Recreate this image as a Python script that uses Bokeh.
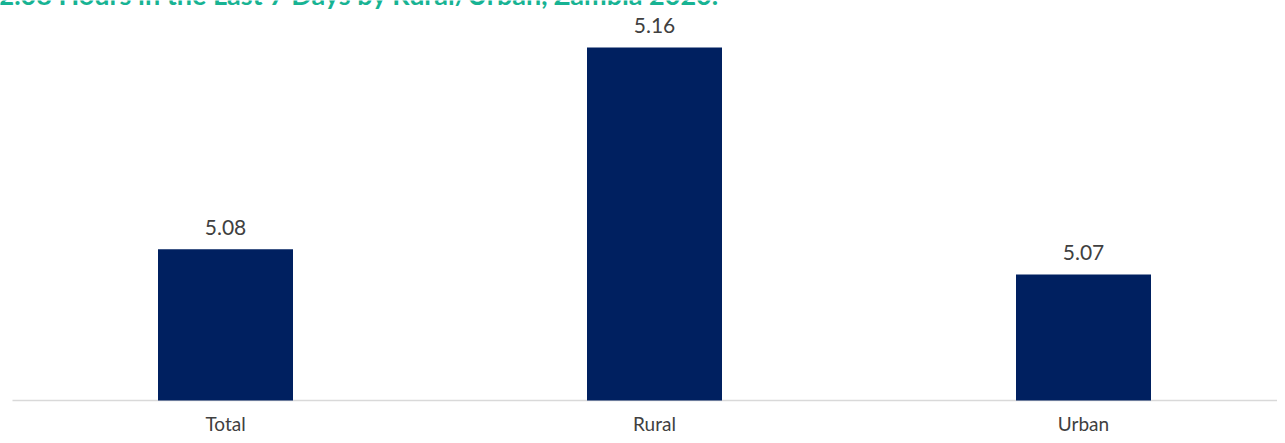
from bokeh.plotting import figure
from bokeh.models import Range1d, Label, ColumnDataSource
from bokeh.core.properties import value
from bokeh.embed import file_html
from bokeh.resources import INLINE

categories = ["Total", "Rural", "Urban"]
values = [5.08, 5.16, 5.07]
value_labels = ["5.08", "5.16", "5.07"]
title_text = "2.08 Hours in the Last 7 Days by Rural/Urban, Zambia 2020."
y_base = 5.02

xs = [i + 0.5 for i in range(len(categories))]
src = ColumnDataSource(dict(x=xs, top=values, lab=value_labels,
                            cat=categories, base=[y_base] * len(xs)))

px_x = 429.0
px_y = 2522.0
x_start = 0.5 - 225 / px_x
x_end = x_start + 1277 / px_x
y_start = y_base - 35 / px_y
y_end = y_base + 400 / px_y

p = figure(width=1277, height=435, output_backend="svg", toolbar_location=None,
           x_range=Range1d(x_start, x_end), y_range=Range1d(y_start, y_end),
           min_border_left=0, min_border_right=0, min_border_top=0, min_border_bottom=0)
p.outline_line_color = None
p.background_fill_color = "white"
p.border_fill_color = "white"
p.grid.visible = False
p.axis.visible = False

# baseline (category axis line)
p.segment(x0=[x_start + 12 / px_x], x1=[x_end], y0=[y_base], y1=[y_base],
          line_color="#d9d9d9", line_width=1.5)

p.vbar(x="x", top="top", bottom=y_base, width=135 / px_x, source=src,
       fill_color="#002060", line_color=None)

p.text(x="x", y="top", text="lab", source=src, text_align="center",
       text_baseline="alphabetic", y_offset=-22, text_font=value("Lato"),
       text_font_size="21px", text_color="#404040")

p.text(x="x", y="base", text="cat", source=src, text_align="center",
       text_baseline="alphabetic", y_offset=23, text_font=value("Lato"),
       text_font_size="19px", text_color="#404040")

title = Label(x=x_start - 2 / px_x, y=y_end + 6 / px_y, x_units="data", y_units="data",
              text=title_text, text_font="Lato", text_font_style="bold",
              text_font_size="27px", text_color="#17b393", text_align="left",
              text_baseline="alphabetic")
p.add_layout(title)

open("out.html", "w").write(file_html(p, INLINE))
